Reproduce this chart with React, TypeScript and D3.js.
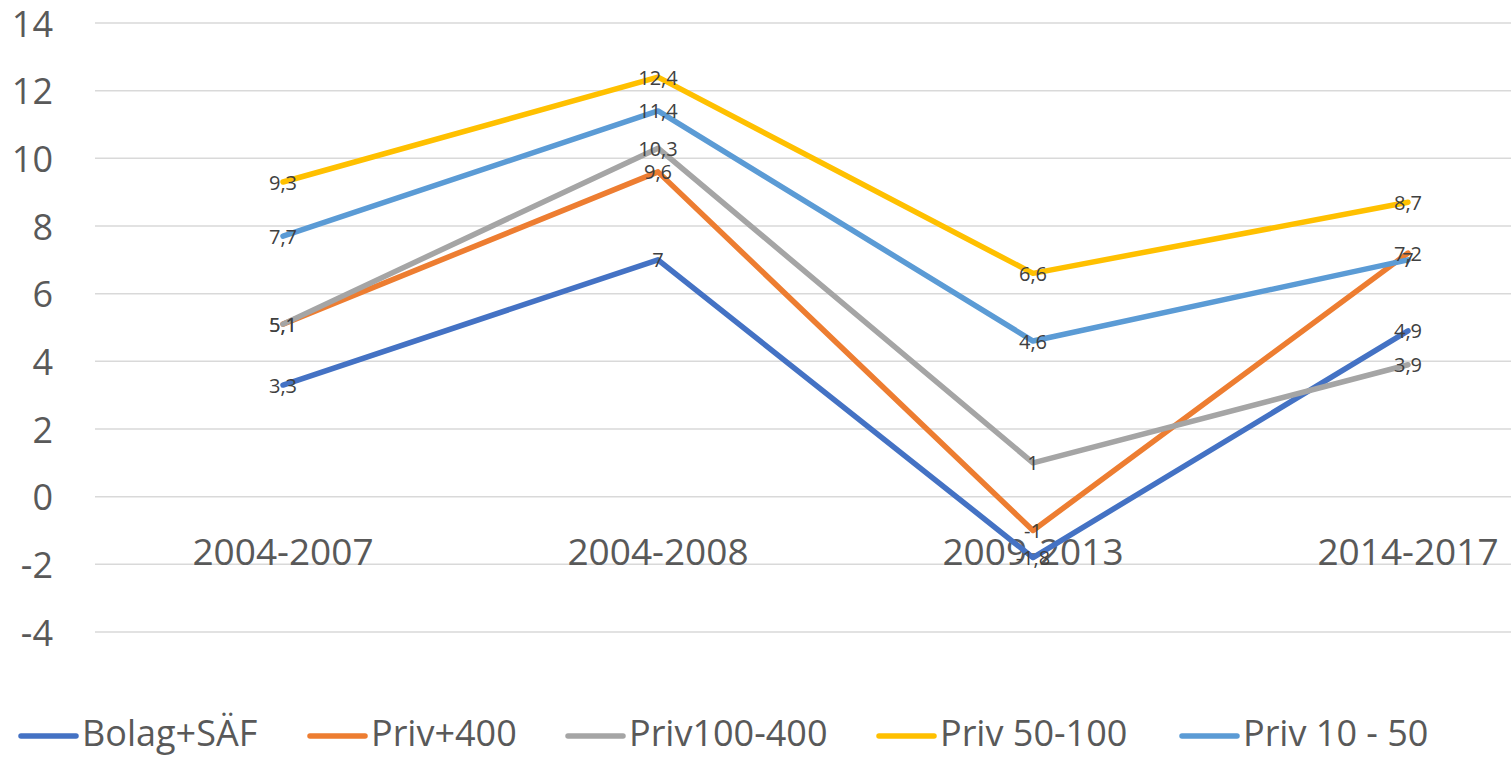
import React from "react";
import * as d3 from "d3";

const categories = ["2004-2007", "2004-2008", "2009-2013", "2014-2017"];
const seriesNames = ["Bolag+SÄF", "Priv+400", "Priv100-400", "Priv 50-100", "Priv 10 - 50"];
const bolag = [3.3, 7, -1.8, 4.9];
const priv400 = [5.1, 9.6, -1, 7.2];
const priv100_400 = [5.1, 10.3, 1, 3.9];
const priv50_100 = [9.3, 12.4, 6.6, 8.7];
const priv10_50 = [7.7, 11.4, 4.6, 7];
const yTicks = [-4, -2, 0, 2, 4, 6, 8, 10, 12, 14];
const colors = ["#4472C4", "#ED7D31", "#A5A5A5", "#FFC000", "#5B9BD5"];
const legendX = [21, 310, 568, 879, 1182];

const W = 1511;
const H = 757;
const FONT = "'Open Sans', sans-serif";

export default function App() {
  const seriesValues = [bolag, priv400, priv100_400, priv50_100, priv10_50];
  const x = d3.scalePoint<string>().domain(categories).range([95.5, 1595.5]).padding(0.5);
  const y = d3.scaleLinear().domain([-4, 14]).range([632, 23]);
  const line = d3
    .line<number>()
    .x((_, i) => x(categories[i]) as number)
    .y((d) => y(d));
  const fmt = (v: number) => String(v).replace(".", ",");

  return (
    <svg width={W} height={H} style={{ position: "absolute", left: 0, top: 0, background: "#fff" }}>
      <rect width={W} height={H} fill="#fff" />
      {yTicks.map((t) => (
        <g key={t}>
          <line x1={95} x2={W} y1={y(t)} y2={y(t)} stroke="#D9D9D9" strokeWidth={1.5} />
          <text x={53} y={y(t)} textAnchor="end" dominantBaseline="central" fontFamily={FONT} fontSize={36} fill="#595959">
            {t}
          </text>
        </g>
      ))}
      {categories.map((c) => (
        <text key={c} x={x(c)} y={565} textAnchor="middle" fontFamily={FONT} fontSize={37} fill="#595959">
          {c}
        </text>
      ))}
      {seriesValues.map((vals, si) => (
        <path
          key={si}
          d={line(vals) || ""}
          fill="none"
          stroke={colors[si]}
          strokeWidth={5.5}
          strokeLinecap="round"
          strokeLinejoin="round"
        />
      ))}
      {seriesValues.map((vals, si) =>
        vals.map((v, i) => (
          <text
            key={si + "-" + i}
            x={x(categories[i])}
            y={y(v)}
            textAnchor="middle"
            dominantBaseline="central"
            fontFamily={FONT}
            fontSize={20}
            fill="#404040"
          >
            {fmt(v)}
          </text>
        ))
      )}
      {seriesNames.map((n, i) => (
        <g key={n}>
          <line x1={legendX[i]} x2={legendX[i] + 55} y1={736} y2={736} stroke={colors[i]} strokeWidth={5.5} strokeLinecap="round" />
          <text x={legendX[i] + 61} y={746} fontFamily={FONT} fontSize={36} fill="#595959">
            {n}
          </text>
        </g>
      ))}
    </svg>
  );
}
